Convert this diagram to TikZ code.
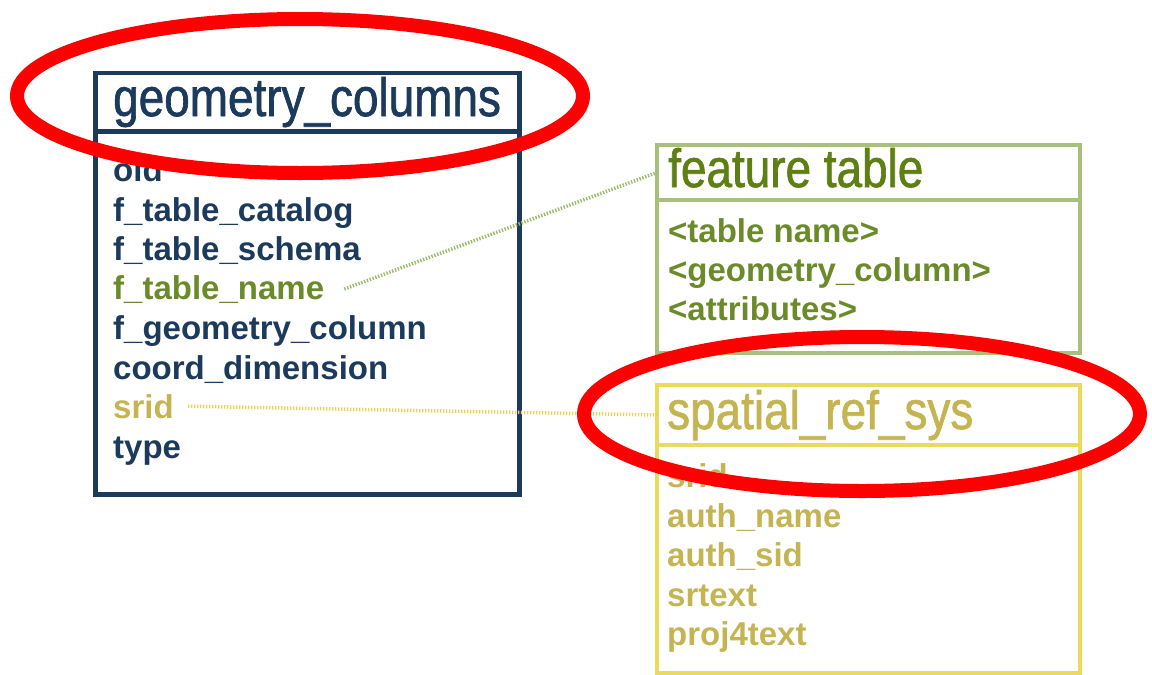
\documentclass[tikz,border=0pt]{standalone}
\usepackage{fontspec}
\setmainfont{Liberation Sans}
\newfontfamily\titlefont{Liberation Sans}[FakeStretch=0.85,FakeBold=1.2]
\definecolor{navy}{HTML}{1B3A5C}
\definecolor{ftborder}{HTML}{A8C07A}
\definecolor{fttitle}{HTML}{5E7F14}
\definecolor{fttext}{HTML}{6B8A2A}
\definecolor{srborder}{HTML}{EADB5C}
\definecolor{srtext}{HTML}{C4B452}
\definecolor{ftdot}{HTML}{9EBB6E}
\definecolor{srdot}{HTML}{E3D462}
\tikzset{
  box/.style={draw, rectangle, anchor=north west, inner sep=0pt, outer sep=0pt},
  gbox/.style={box, draw=navy, line width=4.5pt},
  fbox/.style={box, draw=ftborder, line width=3.5pt},
  sbox/.style={box, draw=srborder, line width=3.5pt},
  ttl/.style={anchor=base west, inner sep=0pt, font=\titlefont\fontsize{54}{54}\selectfont},
  row/.style={anchor=base west, inner sep=0pt, font=\bfseries\fontsize{33}{33}\selectfont},
  link/.style={line width=3.5pt, dash pattern=on 1.4pt off 1.6pt},
  mark ring/.style={draw=red, line width=14pt},
}
\begin{document}
\begin{tikzpicture}[x=1pt, y=-1pt]
\useasboundingbox (0,0) rectangle (1152,675);
% geometry_columns
\node[gbox, minimum width=424pt, minimum height=58.5pt] (ghead) at (95.5,73) {};
\node[gbox, minimum width=424pt, minimum height=363pt] (gbody) at (95.5,131.5) {};
\node[ttl, text=navy] (gtitle) at (113,116) {geometry\_columns};
\node[row, text=navy] (goid) at (113,181) {oid};
\node[row, text=navy] (gcat) at (113,221) {f\_table\_catalog};
\node[row, text=navy] (gsch) at (113,260) {f\_table\_schema};
\node[row, text=fttext] (gname) at (113,299) {f\_table\_name};
\node[row, text=navy] (ggeom) at (113,339) {f\_geometry\_column};
\node[row, text=navy] (gdim) at (113,379) {coord\_dimension};
\node[row, text=srtext] (gsrid) at (113,418) {srid};
\node[row, text=navy] (gtype) at (113,458) {type};
% feature table
\node[fbox, minimum width=423pt, minimum height=55pt] (fhead) at (657,145) {};
\node[fbox, minimum width=423pt, minimum height=153pt] (fbody) at (657,200) {};
\node[ttl, text=fttitle] (ftitle) at (668,187) {feature table};
\node[row, text=fttext] (fname) at (668,242) {<table name>};
\node[row, text=fttext] (fgeom) at (668,281) {<geometry\_column>};
\node[row, text=fttext] (fattr) at (668,320) {<attributes>};
% spatial_ref_sys
\node[sbox, minimum width=423pt, minimum height=60pt] (shead) at (657,385) {};
\node[sbox, minimum width=423pt, minimum height=228pt] (sbody) at (657,445) {};
\node[ttl, text=srtext] (stitle) at (667,429) {spatial\_ref\_sys};
\node[row, text=srtext] (ssrid) at (667,487) {srid};
\node[row, text=srtext] (sauth) at (667,527) {auth\_name};
\node[row, text=srtext] (sasid) at (667,566) {auth\_sid};
\node[row, text=srtext] (stext) at (667,606) {srtext};
\node[row, text=srtext] (sproj) at (667,645) {proj4text};
% connectors
\draw[link, draw=ftdot] ([xshift=20pt]gname.east) -- (fhead.west);
\draw[link, draw=srdot] ([xshift=14pt]gsrid.east) -- (shead.west);
% red highlight rings
\draw[mark ring] (300,96) ellipse [x radius=283, y radius=77];
\draw[mark ring] (862,414) ellipse [x radius=278, y radius=77];
\end{tikzpicture}
\end{document}
